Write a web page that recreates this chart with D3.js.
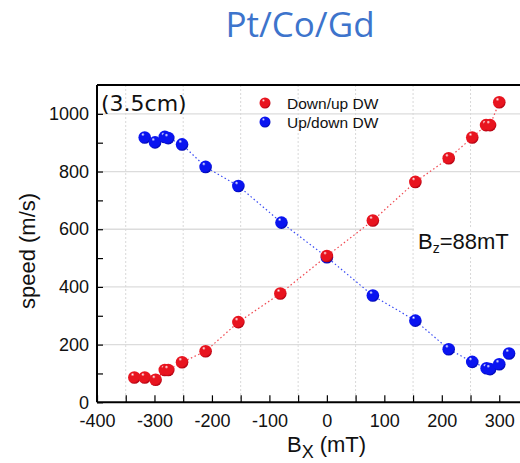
<!DOCTYPE html>
<html><head><meta charset="utf-8">
<script src="https://cdn.jsdelivr.net/npm/d3@7"></script>
<style>body{margin:0;background:#fff}svg{display:block}</style>
</head><body>
<script>
const downUpBx = [-335, -317, -298, -282, -276, -252, -211, -154, -81, 0, 80, 154, 212, 253, 277, 284, 300];
const downUpV  = [86, 86, 78, 112, 112, 139, 177, 278, 377, 507, 630, 764, 846, 918, 961, 961, 1040];
const upDownBx = [-317, -299, -282, -276, -252, -211, -154, -79, 0, 80, 154, 212, 253, 278, 284, 300, 317];
const upDownV  = [918, 901, 920, 916, 894, 816, 750, 623, 503, 370, 283, 184, 140, 118, 115, 132, 169];
const xTicks = [-400, -300, -200, -100, 0, 100, 200, 300];
const yTicks = [0, 200, 400, 600, 800, 1000];
const seriesNames = ["Down/up DW", "Up/down DW"];

const W = 520, H = 463;
const svg = d3.select("body").append("svg").attr("width", W).attr("height", H);
const L = 97, R = 528, T = 85, B = 402.3;
const x = d3.scaleLinear().domain([-400, 350]).range([L, R]);
const y = d3.scaleLinear().domain([0, 1100]).range([B, T]);
const fmt = d => String(d);

const defs = svg.append("defs");
function grad(id, base, dark) {
  const g = defs.append("radialGradient").attr("id", id)
    .attr("cx", "40%").attr("cy", "35%").attr("r", "65%").attr("fx", "35%").attr("fy", "25%");
  g.append("stop").attr("offset", "0%").attr("stop-color", "#ffffff");
  g.append("stop").attr("offset", "22%").attr("stop-color", base);
  g.append("stop").attr("offset", "80%").attr("stop-color", base);
  g.append("stop").attr("offset", "100%").attr("stop-color", dark);
}
grad("gRed", "#e8141f", "#b00010");
grad("gBlue", "#0a14f0", "#0008b0");

// grid
const g = svg.append("g");
g.selectAll(".hg").data(yTicks.filter(d => d > 0)).join("line")
  .attr("x1", L).attr("x2", R).attr("y1", d => y(d)).attr("y2", d => y(d))
  .attr("stroke", "#dcdcdc").attr("stroke-width", 1.3);
const vg = [-350, -250, -150, -50, 50, 150, 250];
g.selectAll(".vg").data(vg).join("line")
  .attr("x1", d => x(d)).attr("x2", d => x(d)).attr("y1", T).attr("y2", B)
  .attr("stroke", "#d8d8d8").attr("stroke-width", 1).attr("stroke-dasharray", "2,2");

// Bz label with white background
const bz = svg.append("g");
bz.append("rect").attr("x", 414).attr("y", 228).attr("width", 110).attr("height", 27).attr("fill", "#fff");
const bzt = bz.append("text").attr("x", 418).attr("y", 249)
  .attr("font-family", "Liberation Sans, Arial, sans-serif").attr("font-size", 22).attr("fill", "#111");
bzt.append("tspan").text("B");
bzt.append("tspan").attr("font-size", 14).attr("dy", 4).text("z");
bzt.append("tspan").attr("dy", -4).text("=88mT");

// axes
const xAxis = d3.axisBottom(x).tickValues(xTicks).tickSize(-7).tickPadding(12).tickFormat(fmt);
const xMinor = d3.axisBottom(x).tickValues(vg).tickSize(-7).tickFormat("");
const yAxis = d3.axisLeft(y).tickValues(yTicks).tickSize(-6).tickPadding(8).tickFormat(fmt);
const yMinor = d3.axisLeft(y).tickValues([100, 300, 500, 700, 900]).tickSize(-6).tickFormat("");

function styleAx(sel) {
  sel.select(".domain").remove();
  sel.selectAll("line").attr("stroke", "#000").attr("stroke-width", 1.2);
  sel.selectAll("text").attr("font-family", "Liberation Sans, Arial, sans-serif").attr("font-size", 18).attr("fill", "#111");
}
svg.append("g").attr("transform", `translate(0,${B})`).call(xAxis).call(styleAx);
svg.append("g").attr("transform", `translate(0,${B})`).call(xMinor).call(styleAx);
svg.append("g").attr("transform", `translate(${L},0)`).call(yAxis).call(styleAx);
svg.append("g").attr("transform", `translate(${L},0)`).call(yMinor).call(styleAx);

svg.append("line").attr("x1", L).attr("x2", R).attr("y1", B).attr("y2", B).attr("stroke", "#000").attr("stroke-width", 2);
svg.append("line").attr("x1", L).attr("x2", R).attr("y1", T).attr("y2", T).attr("stroke", "#000").attr("stroke-width", 2);
svg.append("line").attr("x1", L).attr("x2", L).attr("y1", T).attr("y2", B).attr("stroke", "#000").attr("stroke-width", 2);

// lines
const line = d3.line().x(d => x(d[0])).y(d => y(d[1]));
const blueData = upDownBx.map((d, i) => [d, upDownV[i]]);
const redData = downUpBx.map((d, i) => [d, downUpV[i]]);
svg.append("path").attr("d", line(blueData)).attr("fill", "none").attr("stroke", "#3a4cf5").attr("stroke-width", 1.2).attr("stroke-dasharray", "1.5,2.5");
svg.append("path").attr("d", line(redData)).attr("fill", "none").attr("stroke", "#f04850").attr("stroke-width", 1.2).attr("stroke-dasharray", "1.5,2.5");

svg.append("g").selectAll("circle").data(blueData).join("circle")
  .attr("cx", d => x(d[0])).attr("cy", d => y(d[1])).attr("r", 6.3).attr("fill", "url(#gBlue)");
svg.append("g").selectAll("circle").data(redData).join("circle")
  .attr("cx", d => x(d[0])).attr("cy", d => y(d[1])).attr("r", 6.3).attr("fill", "url(#gRed)");

// legend
const lg = svg.append("g");
[["url(#gRed)", 103], ["url(#gBlue)", 122]].forEach((c, i) => {
  lg.append("circle").attr("cx", 265).attr("cy", c[1]).attr("r", 5.5).attr("fill", c[0]);
  lg.append("text").attr("x", 287).attr("y", c[1] + 5.5).text(seriesNames[i])
    .attr("font-family", "Liberation Sans, Arial, sans-serif").attr("font-size", 15.5).attr("fill", "#111");
});

svg.append("text").attr("x", 101).attr("y", 111).text("(3.5cm)")
  .attr("font-family", "DejaVu Sans, sans-serif").attr("font-size", 22).attr("fill", "#111");

// title
svg.append("text").attr("x", 300).attr("y", 37).attr("text-anchor", "middle").text("Pt/Co/Gd")
  .attr("font-family", "Open Sans, Noto Sans, sans-serif").attr("font-size", 35).attr("fill", "#3d74cc");

// axis labels
const xl = svg.append("text").attr("x", 287).attr("y", 452)
  .attr("font-family", "Liberation Sans, Arial, sans-serif").attr("font-size", 22).attr("fill", "#111");
xl.append("tspan").text("B");
xl.append("tspan").attr("font-size", 18).attr("dy", 6).text("X");
xl.append("tspan").attr("dy", -6).attr("dx", 6).text("(mT)");

svg.append("text").attr("transform", "translate(35,251) rotate(-90)").attr("text-anchor", "middle")
  .text("speed (m/s)").attr("font-family", "Liberation Sans, Arial, sans-serif").attr("font-size", 22).attr("fill", "#111");
</script>
</body></html>
